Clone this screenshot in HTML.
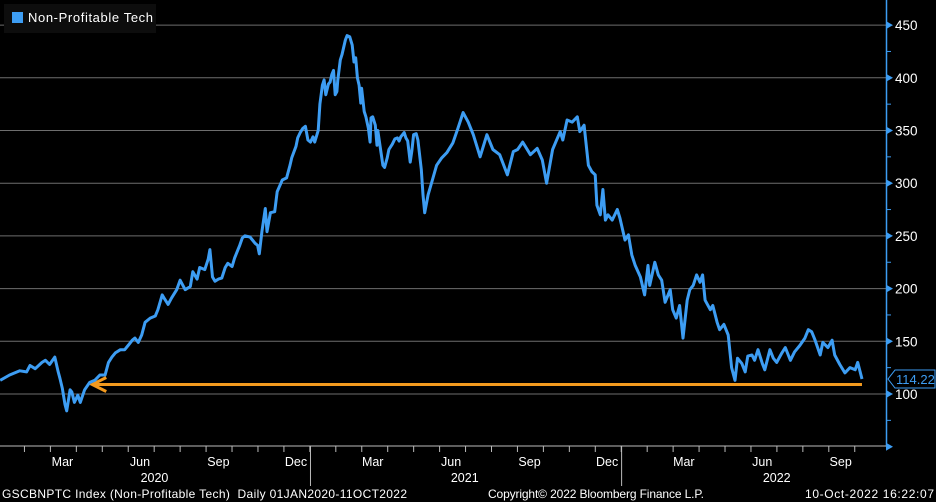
<!DOCTYPE html>
<html><head><meta charset="utf-8"><style>
html,body{margin:0;padding:0;background:#000;}
svg{display:block;font-family:"Liberation Sans","DejaVu Sans",sans-serif;}
</style></head><body>
<svg id="chart" width="936" height="502" viewBox="0 0 936 502" xmlns="http://www.w3.org/2000/svg">
<rect x="0" y="0" width="936" height="502" fill="#000"/>
<g id="grid"></g>
<g id="axes"></g>
<g id="series"></g>
<g>
<rect x="4" y="4" width="152" height="29" fill="#0d0d0d"/>
<rect x="12" y="12" width="11" height="11" fill="#3d9df3"/>
<text x="28" y="22" fill="#fff" font-size="13" textLength="125">Non-Profitable Tech</text>
</g>
<g fill="#fff" font-size="12">
<text x="2" y="498" textLength="405" xml:space="preserve">GSCBNPTC Index (Non-Profitable Tech)  Daily 01JAN2020-11OCT2022</text>
<text x="488" y="498" textLength="216">Copyright© 2022 Bloomberg Finance L.P.</text>
<text x="805" y="498" textLength="129">10-Oct-2022 16:22:07</text>
</g>
</svg>
<script>
const days=[2,13,25,33,37,43,51,55,60,66,70,72,75,78,80,84,86,89,93,96,101,107,113,119,125,129,133,137,143,148,152,157,160,164,168,172,178,184,187,192,195,199,203,209,213,219,225,228,233,236,242,246,248,251,254,258,262,266,269,274,277,281,283,286,289,295,301,304,306,309,313,315,319,324,327,333,338,342,344,349,351,354,357,360,363,366,369,371,375,377,380,382,384,387,389,391,393,395,397,398,401,403,407,409,412,415,417,419,421,423,425,426,429,431,434,436,437,439,442,444,445,448,451,453,456,458,462,465,468,470,472,476,478,480,483,485,487,490,492,496,498,500,504,509,514,520,526,533,539,545,551,557,565,573,580,588,597,604,609,615,624,632,638,643,650,659,662,667,673,679,682,687,692,696,700,702,706,709,712,715,720,726,729,735,739,743,747,753,758,762,764,770,774,778,782,788,791,795,799,803,808,811,815,819,823,826,829,835,838,843,846,851,856,860,864,867,872,876,879,884,887,891,896,899,905,909,913,919,923,929,934,940,946,950,954,958,964,967,973,978,981,987,993,999,1005,1008,1013];
const values=[113,118,122,121,127,124,130,132,128,135,121,115,105,90,84,104,102,92,99,92,104,111,113,118,118,130,135,139,142,142,146,151,153,149,156,168,172,174,180,194,190,185,191,199,208,199,202,216,209,220,218,228,237,211,207,209,210,220,224,221,229,237,241,248,250,249,243,241,233,254,276,254,272,273,292,303,305,317,324,335,343,348,352,354,341,339,344,339,350,375,393,398,384,394,396,403,407,384,387,398,417,422,436,440,439,431,415,419,400,393,376,390,368,363,352,339,362,363,355,336,350,333,317,315,324,332,337,342,343,340,344,348,343,340,320,331,346,347,341,313,289,272,289,303,317,324,329,338,352,367,358,346,325,346,332,327,308,330,332,339,327,333,322,300,332,349,341,360,358,363,349,355,317,311,308,279,270,294,265,270,265,275,267,246,251,232,222,211,194,222,203,225,213,208,187,199,180,172,184,153,189,199,203,213,206,213,189,180,184,168,161,166,156,125,113,134,129,121,136,137,132,142,129,123,142,134,130,139,144,132,140,146,153,161,159,151,137,149,144,151,137,128,120,125,123,130,114.22];
const yTicks=[100,150,200,250,300,350,400,450];
const monthLabels=["Mar","Jun","Sep","Dec","Mar","Jun","Sep","Dec","Mar","Jun","Sep"];
const monthLabelDays=[75,166,258,349,439,531,623,714,804,896,988];
const yearLabels=["2020","2021","2022"];
const yearLabelDays=[183,547,913];
const yearSepDays=[366,731];
const lastValue=114.22;
const supportLevel=109;

const X=d=>-1.5+d*0.8524;
const Y=v=>394-(v-100)*1.054;
const NS="http://www.w3.org/2000/svg";
function mk(tag,attrs,parent){const e=document.createElementNS(NS,tag);for(const k in attrs)e.setAttribute(k,attrs[k]);parent.appendChild(e);return e;}
const grid=document.getElementById('grid'),axes=document.getElementById('axes'),series=document.getElementById('series');

yTicks.forEach(t=>{
  const l=mk('line',{x1:0,x2:886,y1:Y(t),y2:Y(t),stroke:'#6e6e6e','stroke-width':1},grid);
  
  
  const tk=mk('path',{d:`M886 ${Y(t)-4} L893 ${Y(t)} L886 ${Y(t)+4}Z`,fill:'#3d9df3'},axes);
  
  
  const tx=mk('text',{x:895,y:Y(t)+5,fill:'#fff','font-size':13.5},axes);
  tx.textContent=t;
  
  
});
[75,125,175,225,275,325,375,425].forEach(t=>{mk('line',{x1:886,x2:891,y1:Y(t),y2:Y(t),stroke:'#3d9df3'},axes);});
mk('path',{d:`M886 ${Y(50)-4} L893 ${Y(50)} L886 ${Y(50)+4}Z`,fill:'#3d9df3'},axes);
const ya=mk('line',{x1:886.5,x2:886.5,y1:0,y2:Y(50),stroke:'#3d9df3','stroke-width':1.5},axes);


const xa=mk('line',{x1:0,x2:886,y1:446,y2:446,stroke:'#bbb','stroke-width':1},axes);


for(let m=1;m<34;m++){const d=m*30.44;mk('line',{x1:X(d),x2:X(d),y1:446,y2:452,stroke:'#bbb'},axes);}
yearSepDays.forEach(d=>{mk('line',{x1:X(d),x2:X(d),y1:446,y2:486,stroke:'#bbb'},axes);});
monthLabels.forEach((m,i)=>{
  const t=mk('text',{x:X(monthLabelDays[i]),y:466,fill:'#fff','font-size':12.5,'text-anchor':'middle'},axes);
  t.textContent=m;
  
  
});
yearLabels.forEach((yv,i)=>{
  const t=mk('text',{x:X(yearLabelDays[i]),y:482,fill:'#fff','font-size':12.5,'text-anchor':'middle'},axes);
  t.textContent=yv;
  
  
});

const sl=mk('line',{x1:X(110),x2:X(1013),y1:Y(supportLevel),y2:Y(supportLevel),stroke:'#f39a1e','stroke-width':3},series);


const ah=mk('path',{d:`M${X(110)+14} ${Y(supportLevel)-7} L${X(110)} ${Y(supportLevel)} L${X(110)+14} ${Y(supportLevel)+7}`,stroke:'#f39a1e','stroke-width':3,fill:'none'},series);



let d='';days.forEach((dd,i)=>{d+=(i?'L':'M')+X(dd).toFixed(1)+' '+Y(values[i]).toFixed(1);});
const ln=mk('path',{d:d,stroke:'#3d9df3','stroke-width':3,fill:'none','stroke-linejoin':'round'},series);



const ly=Y(lastValue);
const lb=mk('path',{d:`M888 ${ly} L895 ${ly-9} L935 ${ly-9} L935 ${ly+9} L895 ${ly+9}Z`,fill:'#000',stroke:'#3d9df3'},axes);


const lt=mk('text',{x:896,y:ly+5,fill:'#3d9df3','font-size':13},axes);
lt.textContent=lastValue.toFixed(2);


</script>
</body></html>
